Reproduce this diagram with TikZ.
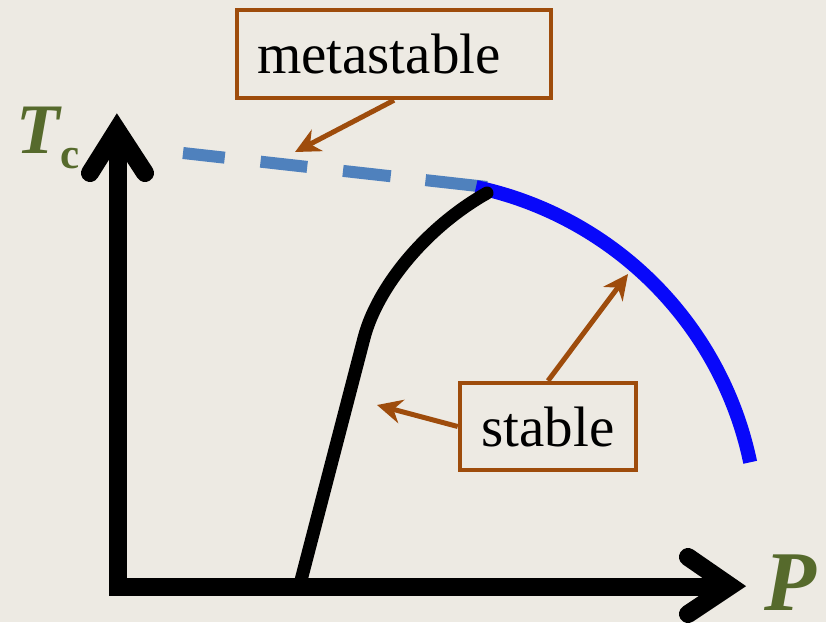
\documentclass[tikz,border=0pt]{standalone}
\usepackage{fontspec}
\setmainfont{Liberation Serif}
\usetikzlibrary{arrows.meta}
\definecolor{bg}{RGB}{237,234,227}
\definecolor{brownc}{RGB}{158,76,12}
\definecolor{greenc}{RGB}{86,106,44}
\definecolor{dashblue}{RGB}{79,129,189}
\definecolor{arcblue}{RGB}{8,8,250}
\begin{document}
\begin{tikzpicture}[x=1pt,y=-1pt,
  axisline/.style={line width=18pt, line join=miter},
  chevron/.style={line width=18pt, line cap=round, line join=miter},
  labelbox/.style={draw=brownc, line width=4.5pt, inner ysep=0pt,
    font=\rmfamily\fontsize{57}{60}\selectfont},
  pointer/.style={draw=brownc, line width=5pt,
    -{Stealth[length=25pt,width=24pt,inset=8pt]}},
  axislabel/.style={text=greenc, inner sep=0pt}
]
% background / bounding box
\fill[bg] (0,0) rectangle (826,622);
\useasboundingbox (0,0) rectangle (826,622);

% axes
\draw[axisline] (118,135) -- (118,587) -- (728,587);
\draw[chevron] (90,173) -- (117,130) -- (145,173);
\draw[chevron] (688,557) -- (730,586) -- (688,614);

% axis labels
\node[axislabel, anchor=base west] (tc) at (16,153)
  {\fontsize{71}{71}\selectfont\bfseries\itshape T\kern1pt\raisebox{-15pt}{\fontsize{43}{43}\selectfont\upshape c}};
\node[axislabel, anchor=base west] (p) at (764,610)
  {\fontsize{85}{85}\selectfont\bfseries\itshape P};

% metastable dashed line
\draw[dashblue, line width=12pt,
  dash pattern=on 42pt off 36pt on 47pt off 36pt on 48pt off 35pt on 80pt off 10pt]
  (183,153) -- (487,187);

% stable blue arc
\draw[arcblue, line width=14pt]
  plot[domain=78:11.8, samples=90] ({402+355.7*cos(\x)},{535-355.7*sin(\x)});

% black curve
\draw[line width=13pt, line cap=round]
  (299,588) -- (364,338) .. controls (377,288) and (425,228) .. (487,193);

% label boxes
\node[labelbox, text width=274pt, align=left, inner xsep=20pt,
  minimum height=88pt] (meta) at (394,54) {metastable};
\node[labelbox, minimum width=176pt, minimum height=87pt,
  inner xsep=0pt] (stable) at (548,426.5) {stable};

% pointer targets
\coordinate (metaTip) at (295,152);
\coordinate (arcTip) at (628,274);
\coordinate (curveTip) at (377,405);

\draw[pointer] (meta.south) -- (metaTip);
\draw[pointer] (stable.north) -- (arcTip);
\draw[pointer] (stable.west) -- (curveTip);
\end{tikzpicture}
\end{document}
